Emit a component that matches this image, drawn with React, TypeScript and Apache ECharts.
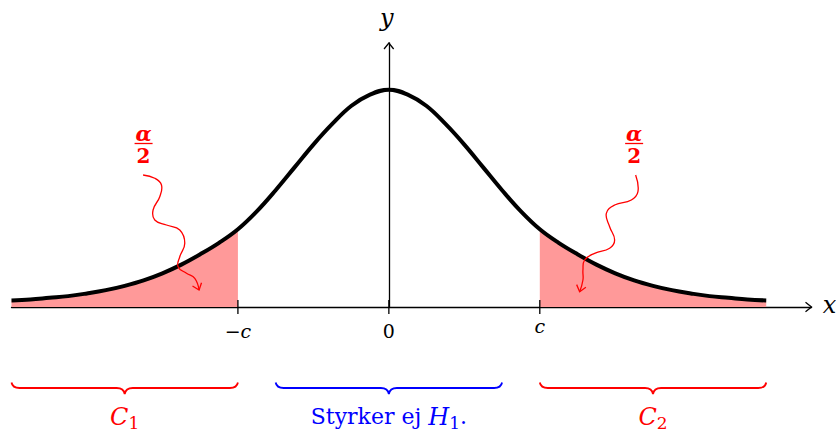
import { useEffect, useRef } from "react";
import * as echarts from "echarts";

// Density curve (symmetric about 0), sampled every 0.25
const X_VALUES = [
  -5, -4.75, -4.5, -4.25, -4, -3.75, -3.5, -3.25, -3, -2.75, -2.5, -2.25, -2,
  -1.75, -1.5, -1.25, -1, -0.75, -0.5, -0.25, 0, 0.25, 0.5, 0.75, 1, 1.25, 1.5,
  1.75, 2, 2.25, 2.5, 2.75, 3, 3.25, 3.5, 3.75, 4, 4.25, 4.5, 4.75, 5,
];
const DENSITY = [
  0.012, 0.014, 0.017, 0.02, 0.025, 0.031, 0.039, 0.049, 0.062, 0.078, 0.097,
  0.118, 0.143, 0.176, 0.215, 0.257, 0.299, 0.337, 0.37, 0.391, 0.4, 0.391,
  0.37, 0.337, 0.299, 0.257, 0.215, 0.176, 0.143, 0.118, 0.097, 0.078, 0.062,
  0.049, 0.039, 0.031, 0.025, 0.02, 0.017, 0.014, 0.012,
];
const CRITICAL = 2;
const TICK_VALUES = [-2, 0, 2];
const TICK_LABELS = ["{m|−}{i|c}", "{n|0}", "{j|c}"];
const REGION_BOUNDS = [
  [-5, -2],
  [-1.5, 1.5],
  [2, 5],
];
const REGION_LABELS = ["{i|C}{s|1}", "{r|Styrker ej }{i|H}{s|1}{r|.}", "{i|C}{s|2}"];
const REGION_COLORS = ["#ff0000", "#0000ff", "#ff0000"];

const X_MIN = -5;
const X_MAX = 5.6;
const Y_MAX = 0.486;
const FONT = "DejaVu Serif";
const RED = "#ff0000";

// wavy annotation paths, offsets in px from the start point under the fraction
const SNAKE_LEFT = [
  [0, 0], [11.7, 3.3], [18.4, 10], [16.7, 21.7], [10, 35], [11.7, 45],
  [23.4, 50], [36.7, 55], [41.7, 68.3], [36.7, 81.7], [35, 91.7],
  [43.4, 98.3], [51.7, 103.3], [56, 115],
];
const SNAKE_RIGHT = [
  [0, 0], [2.3, 16.7], [-4.3, 25], [-21, 30], [-29.3, 38.3], [-26, 51.7],
  [-21, 65], [-26, 73.3], [-41, 78.3], [-51, 85], [-52.7, 95], [-52.7, 105],
  [-56, 116.7],
];

function bracePath(a: number, b: number, y0: number): string {
  const m = (a + b) / 2;
  const d = 5.5;
  const tip = 11.5;
  return (
    `M${a},${y0} Q${a + 1},${y0 + d} ${a + 8},${y0 + d} ` +
    `L${m - 8},${y0 + d} Q${m - 1},${y0 + d} ${m},${y0 + tip} ` +
    `Q${m + 1},${y0 + d} ${m + 8},${y0 + d} ` +
    `L${b - 8},${y0 + d} Q${b - 1},${y0 + d} ${b},${y0}`
  );
}

function chevron(tip: number[], from: number[], color: string, width: number) {
  const dx = tip[0] - from[0];
  const dy = tip[1] - from[1];
  const len = Math.hypot(dx, dy) || 1;
  const ux = dx / len;
  const uy = dy / len;
  const nx = -uy;
  const ny = ux;
  const back = 6;
  const side = 4.8;
  return {
    type: "polyline",
    shape: {
      points: [
        [tip[0] - back * ux + side * nx, tip[1] - back * uy + side * ny],
        [tip[0], tip[1]],
        [tip[0] - back * ux - side * nx, tip[1] - back * uy - side * ny],
      ],
      smooth: 0,
    },
    style: { stroke: color, lineWidth: width, fill: "none", lineJoin: "miter" },
    z: 20,
  };
}

function textStyle(text: string, size: number, color: string, italic: boolean, bold: boolean) {
  return {
    text,
    fontFamily: FONT,
    fontSize: size,
    fontStyle: italic ? "italic" : "normal",
    fontWeight: bold ? "bold" : "normal",
    fill: color,
    align: "center",
    verticalAlign: "middle",
  };
}

export default function App() {
  const ref = useRef<HTMLDivElement>(null);

  useEffect(() => {
    const el = ref.current;
    if (!el) return;
    const chart = echarts.init(el, null, { renderer: "svg" });

    const curve = X_VALUES.map((x, i) => [x, DENSITY[i]]);
    const leftTail = curve.filter(([x]) => x <= -CRITICAL);
    const rightTail = curve.filter(([x]) => x >= CRITICAL);

    const tailSeries = (data: number[][]) => ({
      type: "line",
      data,
      smooth: 0.4,
      symbol: "none",
      lineStyle: { width: 0 },
      areaStyle: { color: "#ff9999", opacity: 1 },
      z: 1,
      silent: true,
    });

    chart.setOption({
      animation: false,
      grid: { left: 11.5, width: 800, top: 43, bottom: 127 },
      xAxis: {
        type: "value",
        min: X_MIN,
        max: X_MAX,
        splitLine: { show: false },
        axisTick: { show: false },
        axisLine: { onZero: true, lineStyle: { color: "#000", width: 1.3 } },
        axisLabel: {
          customValues: TICK_VALUES,
          margin: 12,
          formatter: (v: number) => TICK_LABELS[TICK_VALUES.indexOf(v)] ?? "",
          rich: {
            m: { fontFamily: FONT, fontSize: 19, color: "#000", lineHeight: 24 },
            i: { fontFamily: FONT, fontSize: 19, fontStyle: "italic", color: "#000", lineHeight: 24 },
            n: { fontFamily: FONT, fontSize: 19, color: "#000", lineHeight: 24 },
            j: { fontFamily: FONT, fontSize: 19, fontStyle: "italic", color: "#000", lineHeight: 14 },
          },
        },
      },
      yAxis: {
        type: "value",
        min: 0,
        max: Y_MAX,
        splitLine: { show: false },
        axisTick: { show: false },
        axisLabel: { show: false },
        axisLine: { onZero: true, lineStyle: { color: "#000", width: 1.3 } },
      },
      series: [
        tailSeries(leftTail),
        tailSeries(rightTail),
        {
          type: "line",
          data: curve,
          smooth: 0.4,
          symbol: "none",
          lineStyle: { color: "#000", width: 4 },
          z: 3,
          silent: true,
        },
        {
          type: "custom",
          data: TICK_VALUES.map((v) => [v, 0]),
          z: 4,
          silent: true,
          renderItem: (_p: any, api: any) => {
            const p = api.coord([api.value(0), 0]);
            return {
              type: "line",
              shape: { x1: p[0], y1: p[1] - 7, x2: p[0], y2: p[1] + 7 },
              style: { stroke: "#000", lineWidth: 1.3 },
            };
          },
        },
      ],
    });

    const px = (x: number, y: number) =>
      chart.convertToPixel({ gridIndex: 0 }, [x, y]) as number[];
    const origin = px(0, 0);
    const xEnd = px(X_MAX, 0);
    const yEnd = px(0, Y_MAX);

    const graphics: any[] = [];

    // axis arrow heads and names
    graphics.push(chevron(xEnd, [xEnd[0] - 10, xEnd[1]], "#000", 1.3));
    graphics.push(chevron(yEnd, [yEnd[0], yEnd[1] + 10], "#000", 1.3));
    graphics.push({
      type: "text",
      x: xEnd[0] + 18,
      y: origin[1] - 2,
      style: textStyle("x", 24, "#000", true, false),
    });
    graphics.push({
      type: "text",
      x: yEnd[0] - 2,
      y: yEnd[1] - 25,
      style: textStyle("y", 24, "#000", true, false),
    });

    // α/2 labels with wavy arrows into each tail
    const sides = [
      { lx: -3.25, snake: SNAKE_LEFT },
      { lx: 3.25, snake: SNAKE_RIGHT },
    ];
    sides.forEach(({ lx, snake }) => {
      const cx = px(lx, 0)[0];
      const barY = origin[1] - 163.5;
      graphics.push({
        type: "text",
        x: cx,
        y: barY - 10,
        style: textStyle("α", 21, RED, true, true),
      });
      graphics.push({
        type: "line",
        shape: { x1: cx - 9, y1: barY, x2: cx + 9, y2: barY },
        style: { stroke: RED, lineWidth: 1.3 },
      });
      graphics.push({
        type: "text",
        x: cx,
        y: barY + 12.5,
        style: textStyle("2", 20, RED, false, true),
      });
      const sx = cx + (lx < 0 ? -0.5 : 1.5);
      const sy = origin[1] - 132;
      const pts = snake.map(([dx, dy]) => [sx + dx, sy + dy]);
      graphics.push({
        type: "polyline",
        shape: { points: pts, smooth: 0.45 },
        style: { stroke: RED, lineWidth: 1.3, fill: "none" },
        z: 20,
      });
      const n = pts.length;
      graphics.push(chevron(pts[n - 1], pts[n - 2], RED, 1.3));
    });

    // braces and region labels under the axis
    REGION_BOUNDS.forEach(([a, b], i) => {
      const xa = px(a, 0)[0];
      const xb = px(b, 0)[0];
      const top = origin[1] + 75.5;
      const name = `brace${i}`;
      echarts.graphic.registerShape(
        name,
        echarts.graphic.extendPath(bracePath(xa, xb, top), {}) as any
      );
      graphics.push({
        type: name,
        style: { stroke: REGION_COLORS[i], lineWidth: 1.8, fill: "none" },
      });
      const color = REGION_COLORS[i];
      graphics.push({
        type: "text",
        x: (xa + xb) / 2,
        y: top + 34,
        style: {
          text: REGION_LABELS[i],
          align: "center",
          verticalAlign: "middle",
          rich: {
            i: { fontFamily: FONT, fontSize: 24, fontStyle: "italic", fill: color, lineHeight: 30 },
            s: { fontFamily: FONT, fontSize: 17, fill: color, lineHeight: 30, padding: [12, 0, 0, 0] },
            r: { fontFamily: FONT, fontSize: 22, fill: color, lineHeight: 30 },
          },
        },
      });
    });

    chart.setOption({ graphic: { elements: graphics } });

    return () => {
      chart.dispose();
    };
  }, []);

  return (
    <div
      ref={ref}
      style={{ position: "fixed", left: 0, top: 0, width: 836, height: 434, background: "#fff" }}
    />
  );
}
